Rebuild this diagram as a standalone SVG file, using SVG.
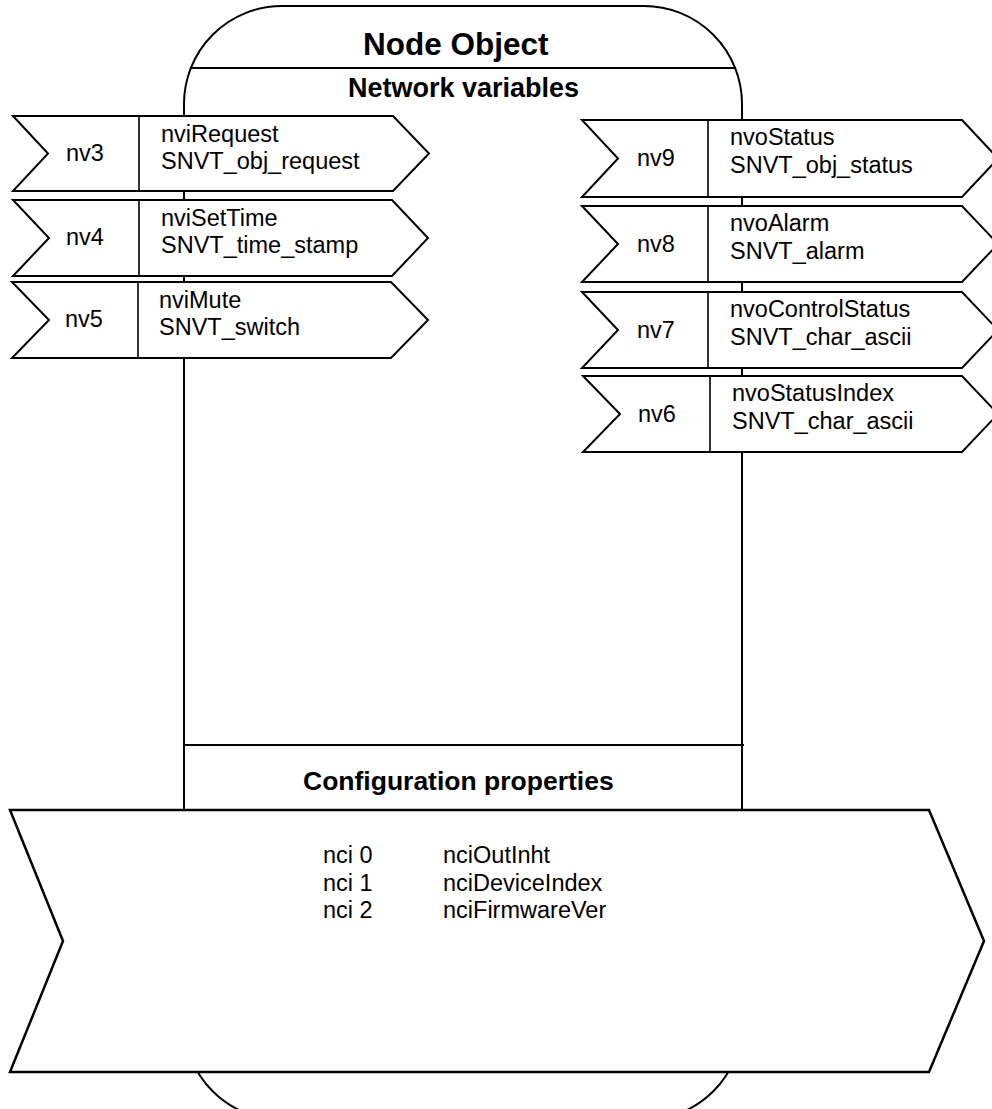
<svg xmlns="http://www.w3.org/2000/svg" width="992" height="1109" viewBox="0 0 992 1109">
<style>
.frame{fill:#fff;stroke:#000;stroke-width:2}
.ln{stroke:#000;stroke-width:2;fill:none}
.chev{fill:#fff;stroke:#000;stroke-width:2;stroke-linejoin:miter}
.div{stroke:#000;stroke-width:1.6}
.t{font-family:"Liberation Sans",Arial,sans-serif;font-size:23.5px;fill:#000}
.b{font-family:"Liberation Sans",Arial,sans-serif;font-weight:bold;fill:#000}
</style>
<rect width="992" height="1109" fill="#fff"/>
<g id="node-object">
<rect class="frame" x="184" y="6" width="558" height="1114" rx="98" ry="98"/>
<line class="ln" x1="191" y1="68" x2="735" y2="68"/>
<line class="ln" x1="184" y1="745" x2="744" y2="745"/>
<text class="b" x="363" y="55" font-size="31.5">Node Object</text>
<text class="b" x="348" y="97" font-size="27">Network variables</text>
<text class="b" x="303" y="790" font-size="26.5">Configuration properties</text>
</g>
<g id="connectors"></g>
<g id="nv3">
<polygon class="chev" points="13,116 393,116 429,153.5 393,191 13,191 48,153.5"/>
<line class="div" x1="139" y1="116" x2="139" y2="191"/>
<text class="t" x="66" y="161">nv3</text>
<text class="t" x="161" y="142">nviRequest</text>
<text class="t" x="161" y="169">SNVT_obj_request</text>
</g>
<g id="nv4">
<polygon class="chev" points="13,200 392,200 428,238 392,276 13,276 49,238"/>
<line class="div" x1="139" y1="200" x2="139" y2="276"/>
<text class="t" x="66" y="245">nv4</text>
<text class="t" x="161" y="226">nviSetTime</text>
<text class="t" x="161" y="253">SNVT_time_stamp</text>
</g>
<g id="nv5">
<polygon class="chev" points="12,282 391,282 428,320 391,358 12,358 49,320"/>
<line class="div" x1="138" y1="282" x2="138" y2="358"/>
<text class="t" x="65" y="327">nv5</text>
<text class="t" x="159" y="308">nviMute</text>
<text class="t" x="159" y="335">SNVT_switch</text>
</g>
<g id="nv9">
<polygon class="chev" points="582,120 962,120 998,158.5 962,197 582,197 618,158.5"/>
<line class="div" x1="708" y1="120" x2="708" y2="197"/>
<text class="t" x="637" y="166">nv9</text>
<text class="t" x="730" y="145">nvoStatus</text>
<text class="t" x="730" y="173">SNVT_obj_status</text>
</g>
<g id="nv8">
<polygon class="chev" points="582,206 962,206 998,244 962,282 582,282 618,244"/>
<line class="div" x1="708" y1="206" x2="708" y2="282"/>
<text class="t" x="637" y="252">nv8</text>
<text class="t" x="730" y="231">nvoAlarm</text>
<text class="t" x="730" y="259">SNVT_alarm</text>
</g>
<g id="nv7">
<polygon class="chev" points="582,292 962,292 998,330 962,368 582,368 618,330"/>
<line class="div" x1="708" y1="292" x2="708" y2="368"/>
<text class="t" x="637" y="338">nv7</text>
<text class="t" x="730" y="317">nvoControlStatus</text>
<text class="t" x="730" y="345">SNVT_char_ascii</text>
</g>
<g id="nv6">
<polygon class="chev" points="583,376 962,376 998,414 962,452 583,452 620,414"/>
<line class="div" x1="710" y1="376" x2="710" y2="452"/>
<text class="t" x="638" y="422">nv6</text>
<text class="t" x="732" y="401">nvoStatusIndex</text>
<text class="t" x="732" y="429">SNVT_char_ascii</text>
</g>
<g id="config">
<polygon class="chev" points="10,810 929,810 984,941 929,1072 10,1072 63,941" style="stroke-width:2.5"/>
<text class="t" x="323" y="863">nci 0</text>
<text class="t" x="443" y="863">nciOutInht</text>
<text class="t" x="323" y="891">nci 1</text>
<text class="t" x="443" y="891">nciDeviceIndex</text>
<text class="t" x="323" y="918">nci 2</text>
<text class="t" x="443" y="918">nciFirmwareVer</text>
</g>
</svg>
